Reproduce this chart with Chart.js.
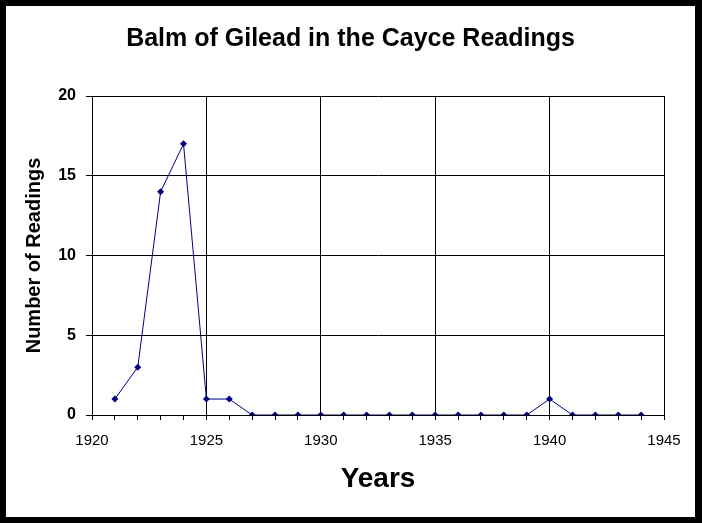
<!DOCTYPE html>
<html>
<head>
<meta charset="utf-8">
<title>Balm of Gilead in the Cayce Readings</title>
<script src="https://cdn.jsdelivr.net/npm/chart.js@4/dist/chart.umd.min.js"></script>
<style>
  html, body { margin: 0; padding: 0; background: #000; }
  #wrap { width: 702px; height: 523px; }
</style>
</head>
<body>
<div id="wrap"><canvas id="grafico" width="702" height="523"></canvas></div>
<script>
// dados
const anos = [1921, 1922, 1923, 1924, 1925, 1926, 1927, 1928, 1929, 1930, 1931, 1932,
              1933, 1934, 1935, 1936, 1937, 1938, 1939, 1940, 1941, 1942, 1943, 1944];
const leituras = [1, 3, 14, 17, 1, 1, 0, 0, 0, 0, 0, 0,
                  0, 0, 0, 0, 0, 0, 0, 1, 0, 0, 0, 0];
const xMin = 1920, xMax = 1945, xPasso = 5;
const yMin = 0, yMax = 20, yPasso = 5;

const fonte = '"Liberation Sans", Arial, sans-serif';
const azul = '#000080';

// moldura preta em volta do gráfico
const moldura = {
    id: 'moldura',
    beforeDraw(chart) {
        const ctx = chart.ctx;
        ctx.save();
        ctx.fillStyle = '#000';
        ctx.fillRect(0, 0, chart.width, chart.height);
        ctx.fillStyle = '#fff';
        ctx.fillRect(6, 6, 689, 511);
        ctx.restore();
    }
};

new Chart(document.getElementById('grafico').getContext('2d'), {
    type: 'line',
    data: {
        datasets: [{
            label: 'Balm of Gilead',
            data: anos.map((a, i) => ({ x: a, y: leituras[i] })),
            borderColor: azul,
            backgroundColor: azul,
            borderWidth: 1,
            pointStyle: 'rectRot',
            pointRadius: 3.5,
            pointBorderWidth: 0,
            pointBackgroundColor: azul,
            tension: 0,
            fill: false
        }]
    },
    options: {
        responsive: false,
        animation: false,
        devicePixelRatio: 1,
        layout: { padding: { left: 6, top: 6, right: 7, bottom: 6 } },
        plugins: {
            legend: { display: false },
            tooltip: { enabled: false },
            title: {
                display: true,
                text: 'Balm of Gilead in the Cayce Readings',
                color: '#000',
                font: { family: fonte, size: 25, weight: 'bold', lineHeight: 1.2 },
                padding: { top: 18, bottom: 42 }
            }
        },
        scales: {
            x: {
                type: 'linear',
                min: xMin,
                max: xMax,
                afterFit: s => { s.height = 102; },
                ticks: {
                    stepSize: 1,
                    autoSkip: false,
                    maxRotation: 0,
                    color: '#000',
                    padding: 12,
                    font: { family: fonte, size: 15 },
                    callback: v => (v % xPasso === 0 ? String(v) : '')
                },
                grid: {
                    color: c => (c.tick && c.tick.value % xPasso === 0 ? '#000' : 'rgba(0,0,0,0)'),
                    tickColor: '#000',
                    tickLength: 5,
                    lineWidth: 1
                },
                border: { color: '#000', width: 1 },
                title: {
                    display: true,
                    text: 'Years',
                    color: '#000',
                    font: { family: fonte, size: 28, weight: 'bold', lineHeight: 1.2 },
                    padding: { top: 0, bottom: 21 }
                }
            },
            y: {
                min: yMin,
                max: yMax,
                afterFit: s => { s.width = 86; },
                ticks: {
                    stepSize: yPasso,
                    color: '#000',
                    padding: 10,
                    font: { family: fonte, size: 16, weight: 'bold' }
                },
                grid: { color: '#000', tickColor: '#000', tickLength: 6, lineWidth: 1 },
                border: { color: '#000', width: 1 },
                title: {
                    display: true,
                    text: 'Number of Readings',
                    color: '#000',
                    font: { family: fonte, size: 20, weight: 'bold', lineHeight: 1.2 },
                    padding: { top: 16, bottom: 0 }
                }
            },
            // eixo vazio à direita só para reservar espaço
            direita: {
                position: 'right',
                afterFit: s => { s.width = 31; },
                ticks: { display: false },
                grid: { display: false },
                border: { display: false }
            }
        }
    },
    plugins: [moldura]
});
</script>
</body>
</html>
